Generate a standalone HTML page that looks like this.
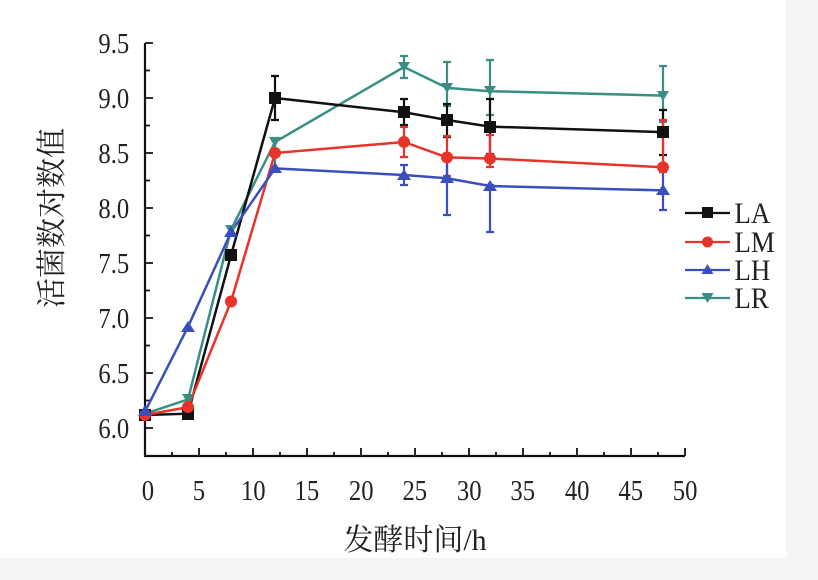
<!DOCTYPE html>
<html><head><meta charset="utf-8"><style>
html,body{margin:0;padding:0;background:#fff}
svg{display:block}
text{font-family:"Liberation Serif","Noto Serif CJK SC",serif;fill:#222}
</style></head><body>
<svg width="818" height="580" viewBox="0 0 818 580" xmlns="http://www.w3.org/2000/svg">
<rect x="0" y="0" width="818" height="580" fill="#fff"/>
<rect x="786" y="0" width="32" height="580" fill="#f4f4f4"/>
<rect x="0" y="558" width="818" height="22" fill="#f4f4f4"/>
<g stroke="#111" stroke-width="2.2" fill="none">
<path d="M145,43 V456 H685"/>
</g>
<g stroke="#111" stroke-width="1.8">
<path d="M145,43h8M145,98h8M145,153h8M145,208h8M145,263h8M145,318h8M145,373h8M145,428h8"/>
<path d="M145,70.5h5M145,125.5h5M145,180.5h5M145,235.5h5M145,290.5h5M145,345.5h5M145,400.5h5"/>
<path d="M199,456v-8M253,456v-8M307,456v-8M361,456v-8M415,456v-8M469,456v-8M523,456v-8M577,456v-8M631,456v-8M685,456v-8"/>
<path d="M172,456v-4M226,456v-4M280,456v-4M334,456v-4M388,456v-4M442,456v-4M496,456v-4M550,456v-4M604,456v-4M658,456v-4"/>
</g>
<g font-size="29" text-anchor="end" transform="scale(0.85,1)">
<text x="152" y="53">9.5</text><text x="152" y="108">9.0</text><text x="152" y="163">8.5</text><text x="152" y="218">8.0</text>
<text x="152" y="273">7.5</text><text x="152" y="328">7.0</text><text x="152" y="383">6.5</text><text x="152" y="438">6.0</text>
</g>
<g font-size="29" text-anchor="middle" transform="scale(0.85,1)">
<text x="174" y="500">0</text><text x="234" y="500">5</text><text x="298" y="500">10</text><text x="361" y="500">15</text>
<text x="425" y="500">20</text><text x="488" y="500">25</text><text x="552" y="500">30</text><text x="615" y="500">35</text>
<text x="679" y="500">40</text><text x="742" y="500">45</text><text x="806" y="500">50</text>
</g>
<text x="415" y="550" font-size="30" text-anchor="middle">发酵时间/h</text>
<text transform="translate(62,218) rotate(-90)" font-size="30" text-anchor="middle">活菌数对数值</text>

<g stroke-width="2.2">
<g stroke="#3a8f85">
<path d="M275,138v32M271,138h8M271,170h8 M404,56v22M400,56h8M400,78h8 M447,62v44M443,62h8M443,106h8 M490,60v55M486,60h8M486,115h8 M663,66v56M659,66h8M659,122h8"/>
</g>
<g stroke="#111">
<path d="M275,76v44M271,76h8M271,120h8 M404,99v26M400,99h8M400,125h8 M447,104v33M443,104h8M443,137h8 M490,99v55M486,99h8M486,154h8 M663,110v45M659,110h8M659,155h8"/>
</g>
<g stroke="#e8322a">
<path d="M404,127v30M400,127h8M400,157h8 M447,136v40M443,136h8M443,176h8 M490,135v32M486,135h8M486,167h8 M663,120v50M659,120h8M659,170h8"/>
</g>
<g stroke="#3a4fbf">
<path d="M404,165v20M400,165h8M400,185h8 M447,157v58M443,157h8M443,215h8 M490,185v47M486,185h8M486,232h8 M663,172v38M659,172h8M659,210h8"/>
</g>
</g>

<g fill="none" stroke-width="2.5">
<polyline stroke="#3a8f85" points="145,413.7 188,399.4 231,229.7 275,142 404,67 447,87.9 490,91.2 663,95.6"/>
<polyline stroke="#111" points="145,415 188,413.7 231,255.3 275,98 404,112.3 447,120 490,126.6 663,132.1"/>
<polyline stroke="#e8322a" points="145,415 188,407.1 231,301.5 275,153 404,142 447,157.4 490,158.5 663,167.3"/>
<polyline stroke="#3a4fbf" points="145,411.5 188,326.8 231,232.2 275,168.4 404,175 447,178.3 490,186 663,190.4"/>
</g>
<g fill="#3a8f85">
<path d="M139,409h12l-6,10z M182,394h12l-6,10z M225,225h12l-6,10z M269,137h12l-6,10z M398,62h12l-6,10z M441,83h12l-6,10z M484,86h12l-6,10z M657,91h12l-6,10z"/>
</g>
<g fill="#111">
<rect x="139" y="409" width="12" height="12"/><rect x="182" y="408" width="12" height="12"/><rect x="225" y="249" width="12" height="12"/>
<rect x="269" y="92" width="12" height="12"/><rect x="398" y="106" width="12" height="12"/><rect x="441" y="114" width="12" height="12"/>
<rect x="484" y="121" width="12" height="12"/><rect x="657" y="126" width="12" height="12"/>
</g>
<g fill="#e8322a">
<circle cx="145" cy="415" r="6"/><circle cx="188" cy="407" r="6"/><circle cx="231" cy="301.5" r="6"/><circle cx="275" cy="153" r="6"/>
<circle cx="404" cy="142" r="6"/><circle cx="447" cy="157.4" r="6"/><circle cx="490" cy="158.5" r="6"/><circle cx="663" cy="167.3" r="6"/>
</g>
<g fill="#3a4fbf">
<path d="M145,405l7,11h-14z M188,321l7,11h-14z M231,226l7,11h-14z M275,162l7,11h-14z M404,169l7,11h-14z M447,172l7,11h-14z M490,180l7,11h-14z M663,184l7,11h-14z"/>
</g>

<g stroke-width="2.2">
<path d="M685,213h45" stroke="#111"/><rect x="702" y="207" width="11" height="11" fill="#111"/>
<path d="M685,242h45" stroke="#e8322a"/><circle cx="707.5" cy="242" r="5.5" fill="#e8322a"/>
<path d="M685,270h45" stroke="#3a4fbf"/><path d="M707.5,264l6,10h-12z" fill="#3a4fbf"/>
<path d="M685,298h45" stroke="#3a8f85"/><path d="M701.5,293h12l-6,10z" fill="#3a8f85"/>
</g>
<g font-size="30" transform="scale(0.9,1)">
<text x="816" y="223">LA</text><text x="816" y="252">LM</text><text x="816" y="280">LH</text><text x="816" y="308">LR</text>
</g>
</svg>
</body></html>
